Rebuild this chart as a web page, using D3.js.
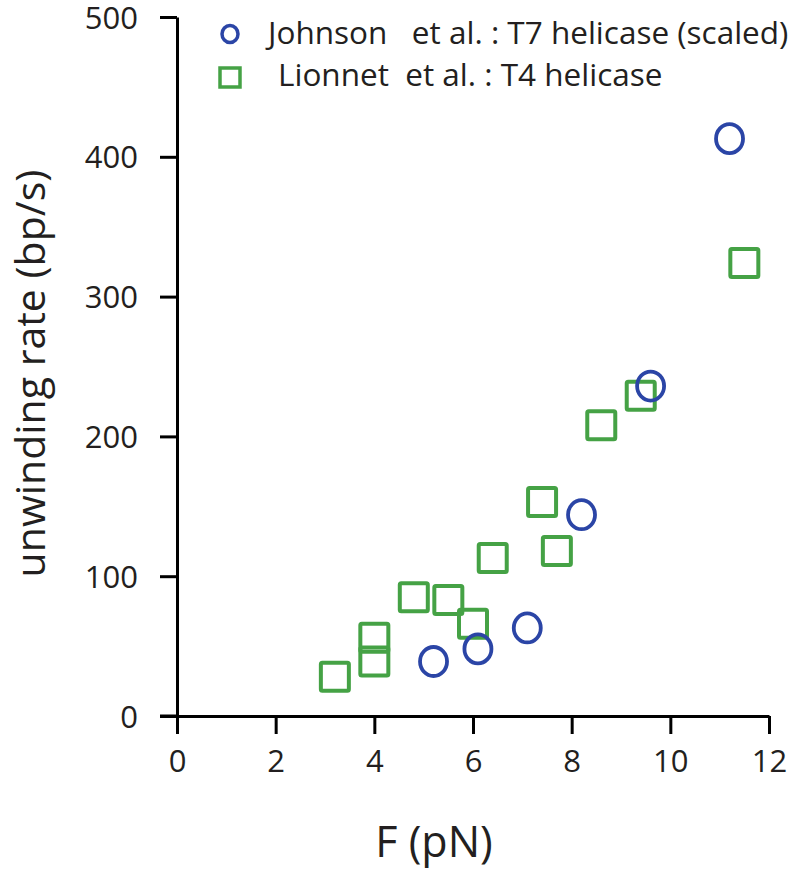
<!DOCTYPE html>
<html>
<head>
<meta charset="utf-8">
<script src="https://cdn.jsdelivr.net/npm/d3@7"></script>
<style>
  body { margin: 0; background: #fff; }
  svg text { font-family: "Open Sans", "Noto Sans", sans-serif; fill: #231f20; }
</style>
</head>
<body>
<div id="chart-area"></div>
<script>
// F (pN) vs unwinding rate (bp/s)
const johnsonF    = [5.2, 6.1, 7.1, 8.2, 9.6, 11.2]
const johnsonRate = [39, 48, 63, 144, 236, 413]

const lionnetF    = [3.2, 4.0, 4.0, 4.8, 5.5, 6.0, 6.4, 7.4, 7.7, 8.6, 9.4, 11.5]
const lionnetRate = [28, 39, 56, 85, 83, 66, 113, 153, 118, 208, 229, 324]

const xTicks = [0, 2, 4, 6, 8, 10, 12]
const yTicks = [0, 100, 200, 300, 400, 500]

const legendLabels = ["Johnson   et al. : T7 helicase (scaled)", "Lionnet  et al. : T4 helicase"]

const blue = "#2b45a6", green = "#45a245"

const width = 795, height = 873
const margin = { left: 177, right: 26, top: 17, bottom: 157 }

const svg = d3.select("#chart-area").append("svg")
    .attr("width", width)
    .attr("height", height)

const x = d3.scaleLinear().domain([0, 12]).range([margin.left, width - margin.right])
const y = d3.scaleLinear().domain([0, 500]).range([height - margin.bottom, margin.top])

// axes
const xAxis = svg.append("g")
    .attr("transform", "translate(0," + y(0) + ")")
    .call(d3.axisBottom(x).tickValues(xTicks).tickSize(18).tickSizeOuter(0).tickPadding(16))
xAxis.append("line")
    .attr("x1", x(0) - 17).attr("x2", x(0))
    .attr("stroke", "#000").attr("stroke-width", 3)

const yAxis = svg.append("g")
    .attr("transform", "translate(" + x(0) + ",0)")
    .call(d3.axisLeft(y).tickValues(yTicks).tickSize(17).tickSizeOuter(0).tickPadding(22))

svg.selectAll(".domain").attr("stroke", "#000").attr("stroke-width", 3)
svg.selectAll(".tick line").attr("stroke", "#000").attr("stroke-width", 3)
svg.selectAll(".tick text").style("font-size", "31px").attr("fill", "#231f20")
yAxis.selectAll(".tick text").attr("dy", "0.36em")

// axis titles
svg.append("text")
    .attr("transform", "translate(45," + y(245) + ") rotate(-90)")
    .attr("text-anchor", "middle")
    .style("font-size", "41px")
    .text("unwinding rate (bp/s)")

svg.append("text")
    .attr("x", x(5.21))
    .attr("y", 857)
    .attr("text-anchor", "middle")
    .style("font-size", "43px")
    .text("F (pN)")

// data
const johnson = johnsonF.map((f, i) => ({ f: f, r: johnsonRate[i] }))
const lionnet = lionnetF.map((f, i) => ({ f: f, r: lionnetRate[i] }))

const side = 28
svg.append("g").selectAll("rect")
    .data(lionnet)
    .join("rect")
    .attr("x", d => x(d.f) - side / 2)
    .attr("y", d => y(d.r) - side / 2)
    .attr("width", side)
    .attr("height", side)
    .attr("rx", 1.5)
    .attr("fill", "none")
    .attr("stroke", green)
    .attr("stroke-width", 4)

svg.append("g").selectAll("ellipse")
    .data(johnson)
    .join("ellipse")
    .attr("cx", d => x(d.f))
    .attr("cy", d => y(d.r))
    .attr("rx", 13.5)
    .attr("ry", 14.5)
    .attr("fill", "none")
    .attr("stroke", blue)
    .attr("stroke-width", 3.8)

// legend
const legend = svg.append("g")
legend.append("ellipse")
    .attr("cx", 230).attr("cy", 34)
    .attr("rx", 8).attr("ry", 8.5)
    .attr("fill", "none").attr("stroke", blue).attr("stroke-width", 3.5)
legend.append("rect")
    .attr("x", 220).attr("y", 68).attr("width", 20).attr("height", 19)
    .attr("fill", "none").attr("stroke", green).attr("stroke-width", 3.5)

legend.selectAll("text.lab")
    .data(legendLabels)
    .join("text")
    .attr("class", "lab")
    .attr("x", (d, i) => i == 0 ? 268 : 278)
    .attr("y", (d, i) => 44 + i * 42)
    .style("font-size", "31.5px")
    .attr("xml:space", "preserve")
    .text(d => d)
</script>
</body>
</html>
